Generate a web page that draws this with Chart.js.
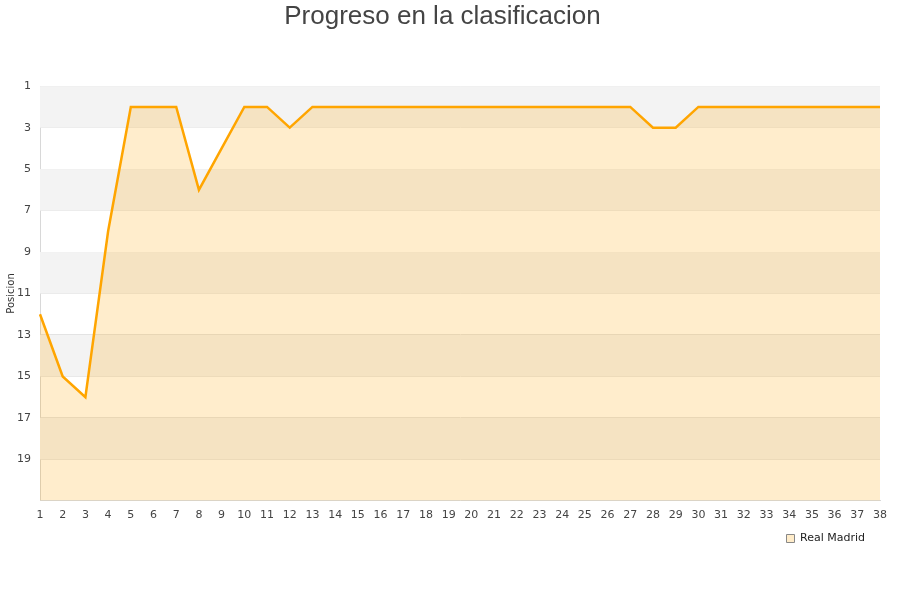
<!DOCTYPE html>
<html lang="es">
<head>
    <meta charset="UTF-8">
    <title>Progreso en la clasificacion</title>
    <style>
        body { margin: 0; background: #fff; }
        #wrap { width: 900px; height: 600px; }
    </style>
</head>
<body>
    <div id="wrap"><canvas id="chart" width="900" height="600"></canvas></div>

    <script src="https://cdn.jsdelivr.net/npm/chart.js"></script>
    <script>
// jornadas y posiciones
var jornadas = [];
for (var j = 1; j <= 38; j++) jornadas.push(String(j));
var posiciones = [12, 15, 16, 8, 2, 2, 2, 6, 4, 2, 2, 3, 2, 2, 2, 2, 2, 2, 2, 2,
                  2, 2, 2, 2, 2, 2, 2, 3, 3, 2, 2, 2, 2, 2, 2, 2, 2, 2];
var equipo = "Real Madrid";
var titulo = "Progreso en la clasificacion";
var ejeY = "Posicion";
var posMin = 1, posMax = 21;

// franjas grises alternas de fondo
var bandas = {
    id: 'bandas',
    beforeDatasetsDraw: function(chart) {
        var ctx = chart.ctx, area = chart.chartArea, y = chart.scales.y;
        ctx.save();
        ctx.fillStyle = '#f3f3f3';
        for (var v = posMin; v < posMax; v += 4) {
            var top = y.getPixelForValue(v);
            var bot = y.getPixelForValue(Math.min(v + 2, posMax));
            ctx.fillRect(area.left, top, area.right - area.left, bot - top);
        }
        ctx.restore();
    }
};

// mover la leyenda un poco a la izquierda
var leyendaIzq = {
    id: 'leyendaIzq',
    afterLayout: function(chart) {
        chart.legend.left -= 12;
        chart.legend.right -= 12;
    }
};

new Chart(document.getElementById('chart').getContext('2d'), {
    type: 'line',
    data: {
        labels: jornadas,
        datasets: [{
            label: equipo,
            data: posiciones,
            borderColor: '#ffa500',
            backgroundColor: 'rgba(255,165,0,0.2)',
            borderWidth: 2.5,
            pointRadius: 0,
            tension: 0,
            fill: { value: posMax }
        }]
    },
    options: {
        responsive: false,
        animation: false,
        layout: { padding: { left: 5, right: 20, top: 1, bottom: 46 } },
        plugins: {
            title: {
                display: true,
                text: titulo,
                color: '#444',
                font: { family: 'Liberation Sans', size: 26, weight: 'normal' },
                padding: { top: 0, bottom: 54 }
            },
            legend: {
                position: 'bottom',
                align: 'end',
                labels: {
                    color: '#222',
                    font: { family: 'DejaVu Sans', size: 11 },
                    boxWidth: 8,
                    boxHeight: 8,
                    padding: 3,
                    generateLabels: function(chart) {
                        return [{
                            text: equipo,
                            fillStyle: '#ffecc9',
                            strokeStyle: '#888',
                            lineWidth: 1,
                            fontColor: '#222',
                            datasetIndex: 0
                        }];
                    }
                }
            },
            tooltip: { enabled: false }
        },
        scales: {
            x: {
                offset: false,
                grid: { display: false, drawTicks: false },
                border: { color: '#d8d8d8' },
                ticks: {
                    color: '#444',
                    font: { family: 'DejaVu Sans', size: 11 },
                    maxRotation: 0,
                    autoSkip: false,
                    padding: 8
                }
            },
            y: {
                reverse: true,
                min: posMin,
                max: posMax,
                afterFit: function(s) { s.width = 35; },
                grid: { color: '#e2e2e2', drawTicks: false },
                border: { color: '#d8d8d8' },
                title: {
                    display: true,
                    text: ejeY,
                    color: '#333',
                    font: { family: 'DejaVu Sans', size: 10 },
                    padding: 0
                },
                ticks: {
                    stepSize: 2,
                    color: '#444',
                    font: { family: 'DejaVu Sans', size: 11 },
                    padding: 9,
                    callback: function(v) { return v === posMax ? '' : v; }
                }
            }
        }
    },
    plugins: [bandas, leyendaIzq]
});
    </script>
</body>
</html>
